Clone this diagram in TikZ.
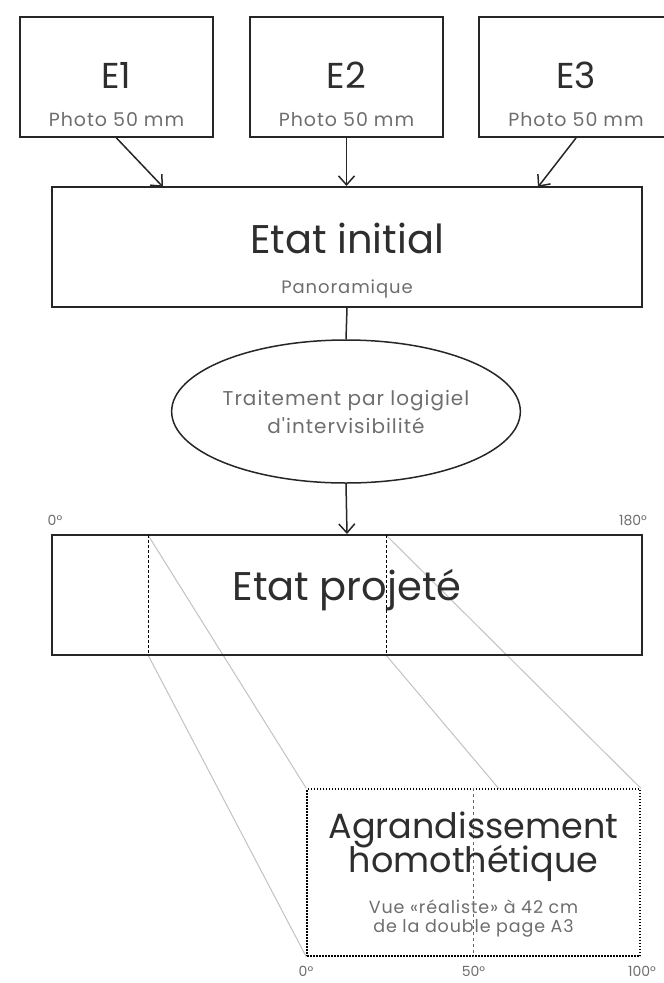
\documentclass[tikz,border=0pt]{standalone}
\usepackage{fontspec}
\setmainfont{Poppins}
\newfontfamily\spaced{Poppins}[LetterSpace=5.0]
\usetikzlibrary{arrows.meta,shapes.geometric,backgrounds}
\definecolor{ink}{HTML}{2E2E2E}
\definecolor{note}{HTML}{6E6E6E}
\definecolor{raygray}{HTML}{C2C2C2}
\begin{document}
\begin{tikzpicture}[x=1pt,y=-1pt,
    frame/.style={draw=black!85,line width=2pt,inner sep=0pt},
    title/.style={text=ink,inner sep=0pt,font=\fontsize{40}{44}\selectfont},
    caption/.style={text=note,inner sep=0pt,font=\spaced\fontsize{18}{22}\selectfont},
    degree/.style={text=note,inner sep=0pt,font=\fontsize{14}{16}\selectfont},
    flow/.style={line width=1.5pt,draw=black!85,-{Straight Barb[length=9pt,width=16pt]}},
    ray/.style={color=raygray,line width=1pt}]
  \useasboundingbox (0,0) rectangle (664,983);

  % the three photos
  \node[frame,minimum width=193pt,minimum height=120pt] (e1) at (116.5,77) {};
  \node[frame,minimum width=193pt,minimum height=120pt] (e2) at (346.5,77) {};
  \node[frame,minimum width=194pt,minimum height=120pt] (e3) at (576,77) {};
  \node[title,font=\fontsize{36}{40}\selectfont] (e1 name) at (116.5,75) {E1};
  \node[title,font=\fontsize{36}{40}\selectfont] (e2 name) at (346.5,75) {E2};
  \node[title,font=\fontsize{36}{40}\selectfont] (e3 name) at (576,75) {E3};
  \node[caption,font=\spaced\fontsize{19}{22}\selectfont] (e1 photo) at (116.5,120) {Photo 50 mm};
  \node[caption,font=\spaced\fontsize{19}{22}\selectfont] (e2 photo) at (346.5,120) {Photo 50 mm};
  \node[caption,font=\spaced\fontsize{19}{22}\selectfont] (e3 photo) at (576,120) {Photo 50 mm};

  % panorama, processing, projection
  \node[frame,minimum width=590pt,minimum height=120pt] (init) at (347,247) {};
  \node[title] (init name) at (347,238) {Etat initial};
  \node[caption] (init sub) at (347,289) {Panoramique};

  \node[ellipse,draw=black!85,line width=1.5pt,minimum width=298pt,minimum height=143pt,
        inner sep=0pt,align=center,text=note,font=\spaced\fontsize{20}{28}\selectfont]
        (treat) at (346,411.5) {Traitement par logigiel\\d'intervisibilité};

  \node[frame,minimum width=590pt,minimum height=120pt] (proj) at (347,595) {};
  \node[title,anchor=base] (proj name) at (347,600) {Etat projeté};
  \node[degree] (p0) at (55,520) {0°};
  \node[degree] (p180) at (633,520) {180°};

  \coordinate (in1) at (163,187);
  \coordinate (in3) at (538,187);
  \coordinate (wtl) at (148,535);
  \coordinate (wbl) at (148,655);
  \coordinate (wtr) at (386,535);
  \coordinate (wbr) at (386,655);

  % enlarged view of the window
  \node[fill=white,draw=black,line width=1.5pt,dash pattern=on 1.5pt off 1.5pt,
        minimum width=333pt,minimum height=167pt,inner sep=0pt] (zoom) at (473.5,872.5) {};
  \draw[black!60,line width=0.8pt,dash pattern=on 3pt off 3pt] (zoom.north) -- (zoom.south);
  \node[title,anchor=base,font=\fontsize{35}{40}\selectfont] (zoom name) at (473.5,838) {Agrandissement};
  \node[title,anchor=base,font=\fontsize{35}{40}\selectfont] (zoom name2) at (473.5,872) {homothétique};
  \node[caption,anchor=base,font=\spaced\fontsize{17.5}{19}\selectfont] (zoom sub) at (473.5,913) {Vue «réaliste» à 42 cm};
  \node[caption,anchor=base,font=\spaced\fontsize{17.5}{19}\selectfont] (zoom sub2) at (473.5,932) {de la double page A3};
  \node[degree,anchor=base] (z0) at (306,976) {0°};
  \node[degree,anchor=base] (z50) at (473.5,976) {50°};
  \node[degree,anchor=base] (z100) at (642,976) {100°};

  \begin{scope}[flow]
    \draw (e1.south) -- (in1);
    \draw (e2.south) -- (e2.south |- init.north);
    \draw (e3.south) -- (in3);
    \draw (treat.south) -- (proj.north);
  \end{scope}
  \draw[line width=1.5pt,black!85] (init.south) -- (treat.north);

  \begin{scope}[line width=1pt,dash pattern=on 3pt off 2pt]
    \draw (wtl) -- (wbl);
    \draw (wtr) -- (wbr);
  \end{scope}

  \begin{pgfonlayer}{background}
    \draw[ray] (wtl) -- (zoom.north west);
    \draw[ray] (wbl) -- (zoom.south west);
    \draw[ray] (wtr) -- (zoom.north east);
    \draw[ray] (wbr) -- (zoom.south east);
  \end{pgfonlayer}
\end{tikzpicture}
\end{document}
